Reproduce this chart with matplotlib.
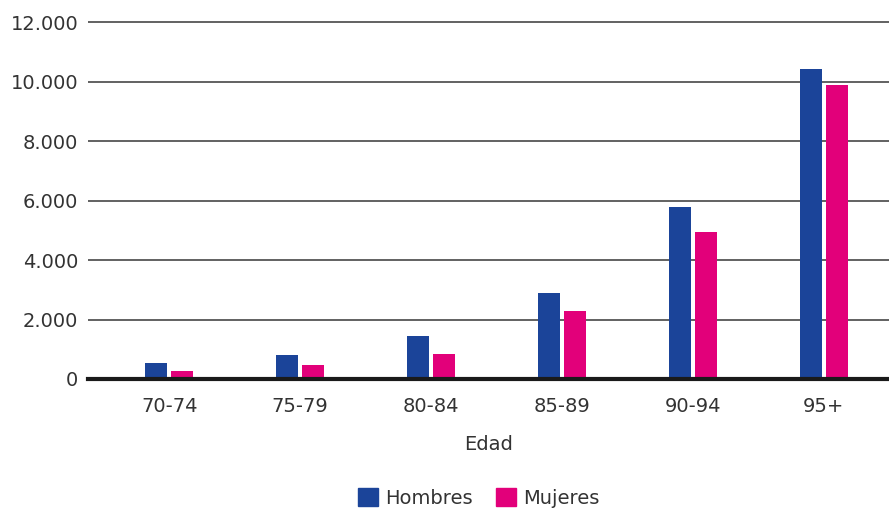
import matplotlib
matplotlib.use("Agg")
import matplotlib.pyplot as plt
import numpy as np
from matplotlib.ticker import FuncFormatter
from matplotlib.patches import Patch

categories = ["70-74", "75-79", "80-84", "85-89", "90-94", "95+"]
hombres = [540, 810, 1450, 2900, 5790, 10440]
mujeres = [270, 470, 840, 2290, 4950, 9900]
yticks = [0, 2000, 4000, 6000, 8000, 10000, 12000]

c_h = "#1b4499"
c_m = "#e2007a"
txt = "#333333"

plt.rcParams['font.family'] = ['DejaVu Sans']

fig = plt.figure(figsize=(8.89, 5.09), dpi=100)
W, H = 889, 509
ax = fig.add_axes([88 / W, 1 - 379 / H, (889 - 88) / W, (379 - 15) / H])

x = np.arange(len(categories))
bw = 0.168
off = 0.099
ax.bar(x - off, hombres, bw, color=c_h, zorder=3, label="Hombres")
ax.bar(x + off, mujeres, bw, color=c_m, zorder=3, label="Mujeres")

ax.set_xlim(-0.62, 5.50)
ax.set_ylim(0, 12245)
ax.set_yticks(yticks)
ax.yaxis.set_major_formatter(FuncFormatter(lambda v, p: f"{int(v):,}".replace(",", ".")))
for t in yticks[1:]:
    ax.axhline(t, color="#555555", lw=1.3, zorder=1)
ax.axhline(0, color="#1a1a1a", lw=3, zorder=4, clip_on=False)

ax.set_xticks(x)
ax.set_xticklabels(categories)
ax.tick_params(axis="both", length=0, labelsize=14, colors=txt)
ax.tick_params(axis="x", pad=13)
ax.tick_params(axis="y", pad=7)
for s in ax.spines.values():
    s.set_visible(False)

ax.set_xlabel("Edad", fontsize=14, color=txt, labelpad=14)

handles = [Patch(color=c_h), Patch(color=c_m)]
fig.legend(handles, ["Hombres", "Mujeres"], loc="center", bbox_to_anchor=(479 / W, 1 - 498 / H),
           ncol=2, frameon=False, fontsize=14, handlelength=1.0, handleheight=1.0,
           handletextpad=0.4, columnspacing=1.2, labelcolor=txt)

fig.savefig("out.png", dpi=100)
